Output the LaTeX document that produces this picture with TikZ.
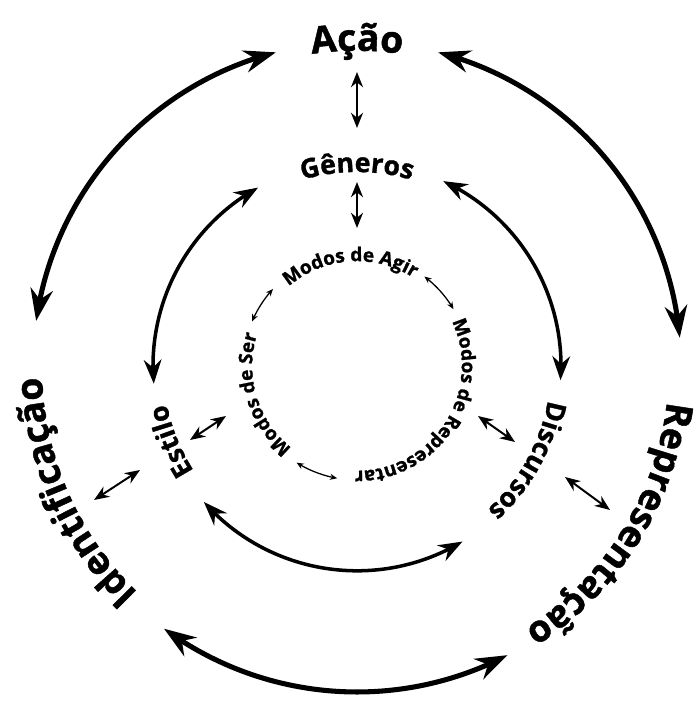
\documentclass[tikz,border=0pt]{standalone}
\usepackage{fontspec}
\setmainfont{Open Sans}[BoldFeatures={FakeBold=1.2}]
\usepackage{tikz}
\usetikzlibrary{arrows.meta}
\usetikzlibrary{bending}
\usetikzlibrary{decorations.text}

\newcommand{\outerfont}{\fontsize{26.5}{30}\selectfont\bfseries}
\newcommand{\middlefont}{\fontsize{19}{22}\selectfont\bfseries}
\newcommand{\innerfont}{\fontsize{13.5}{15}\selectfont\bfseries}

\tikzset{
	bigarrow/.style={line width=3.6pt, {Stealth[length=0.8cm,width=0.56cm]}-{Stealth[length=0.8cm,width=0.56cm]}},
	midarrow/.style={line width=2.5pt, {Stealth[length=0.6cm,width=0.44cm]}-{Stealth[length=0.6cm,width=0.44cm]}},
	linkarrow/.style={line width=1.4pt, {Stealth[length=0.38cm,width=0.3cm]}-{Stealth[length=0.38cm,width=0.3cm]}},
	ringarrow/.style={line width=0.9pt, {Stealth[length=0.18cm,width=0.15cm]}-{Stealth[length=0.18cm,width=0.15cm]}},
	ringtext/.style={decorate, decoration={text along path, text align=center, text={#1}}}
}

\begin{document}
\begin{tikzpicture}
		\useasboundingbox (-8.925,-8.5) rectangle (8.525,9.15);
		\path[ringtext={|\outerfont|Ação}] (130:7.88) arc[start angle=130, end angle=50, radius=7.88];
		\path[ringtext={|\outerfont|Identificação}] (250:7.88) arc[start angle=250, end angle=158, radius=7.88];
		\path[ringtext={|\outerfont|Representação}] (14:7.8) arc[start angle=14, end angle=-78, radius=7.8];
		\path[ringtext={|\middlefont|Gêneros}] (125:4.85) arc[start angle=125, end angle=55, radius=4.85];
		\path[ringtext={|\middlefont|Estilo}] (237:4.85) arc[start angle=237, end angle=167, radius=4.85];
		\path[ringtext={|\middlefont|Discursos}] (6:4.85) arc[start angle=6, end angle=-64, radius=4.85];
		\path[ringtext={|\innerfont|Modos de Agir}] (164:2.62) arc[start angle=164, end angle=24, radius=2.62];
		\path[ringtext={|\innerfont|Modos de Representar}] (47:2.62) arc[start angle=47, end angle=-113, radius=2.62];
		\path[ringtext={|\innerfont|Modos de Ser}] (247:2.62) arc[start angle=247, end angle=147, radius=2.62];
		\draw[bigarrow] (104.5:8.1) arc[start angle=104.5, end angle=172, radius=8.1];
		\draw[bigarrow] (75.5:8.1) arc[start angle=75.5, end angle=5, radius=8.1];
		\draw[bigarrow] (233.7:8.15) arc[start angle=233.7, end angle=297.5, radius=8.15];
		\draw[midarrow] (119:5.1) arc[start angle=119, end angle=185, radius=5.1];
		\draw[midarrow] (65:5.1) arc[start angle=65, end angle=-4, radius=5.1];
		\draw[midarrow] (221.6:5.12) arc[start angle=221.6, end angle=301, radius=5.12];
		\draw[ringarrow] (157:2.85) arc[start angle=157, end angle=137.5, radius=2.85];
		\draw[ringarrow] (53:2.8) arc[start angle=53, end angle=30.5, radius=2.8];
		\draw[ringarrow] (238:2.85) arc[start angle=238, end angle=260, radius=2.85];
		\coordinate (acao-s) at (0,7.35);
		\coordinate (generos-n) at (0,5.95);
		\coordinate (generos-s) at (0,4.6);
		\coordinate (agir-n) at (0,3.45);
		\coordinate (estilo-e) at (-3.275,-1.25);
		\coordinate (ser-w) at (-4.175,-1.85);
		\coordinate (estilo-w) at (-5.425,-2.6);
		\coordinate (ident-e) at (-6.575,-3.35);
		\coordinate (repr-w) at (3.025,-1.25);
		\coordinate (disc-w) at (3.95,-1.9);
		\coordinate (disc-e) at (5.2,-2.775);
		\coordinate (repr-e) at (6.325,-3.6);
		\draw[linkarrow] (acao-s) -- (generos-n);
		\draw[linkarrow] (generos-s) -- (agir-n);
		\draw[linkarrow] (ser-w) -- (estilo-e);
		\draw[linkarrow] (ident-e) -- (estilo-w);
		\draw[linkarrow] (repr-w) -- (disc-w);
		\draw[linkarrow] (disc-e) -- (repr-e);
	\end{tikzpicture}
\end{document}
